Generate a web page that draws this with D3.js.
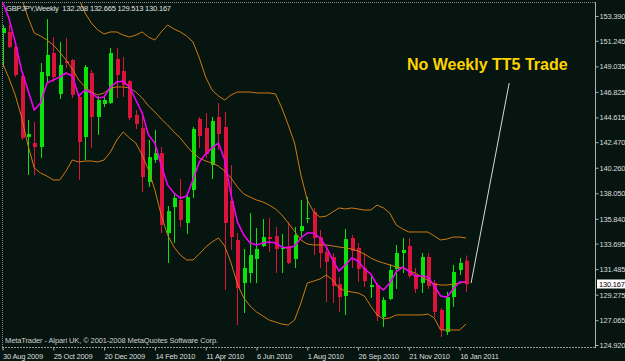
<!DOCTYPE html>
<html>
<head>
<meta charset="utf-8">
<script src="https://cdn.jsdelivr.net/npm/d3@7"></script>
<style>
  html, body { margin: 0; padding: 0; background: #061510; }
  svg { display: block; }
  text { font-family: "Liberation Sans", Arial, sans-serif; }
</style>
</head>
<body>
<svg id="chart" width="625" height="361"></svg>
<script>
// GBPJPY weekly bars, 30 Aug 2009 .. 23 Jan 2011 (bar index 0..73)
var open = [151.92,152.01,150.70,148.20,142.92,142.40,142.05,148.20,150.19,146.64,
  149.49,149.58,146.38,142.92,148.46,144.65,145.77,145.86,149.67,148.63,
  147.76,144.83,143.70,139.03,140.93,141.53,134.61,136.86,137.47,135.48,
  138.33,144.48,143.70,140.50,144.65,143.78,137.38,134.01,130.28,131.15,
  132.36,133.49,134.26,134.35,133.23,133.49,132.36,134.78,135.82,136.43,
  134.26,132.97,132.54,130.19,129.16,134.18,133.32,131.59,129.94,130.11,
  127.34,128.90,131.50,132.88,133.49,130.98,130.28,132.54,130.28,127.95,
  126.05,129.07,131.41,132.208]
var high = [152.61,152.61,151.05,148.29,144.39,144.22,149.32,153.13,151.57,151.14,
  151.49,149.67,146.56,149.15,148.72,146.47,146.47,150.62,150.62,149.84,
  147.85,145.26,145.09,142.66,143.53,142.05,136.95,137.98,139.28,137.90,
  143.78,144.65,145.00,144.65,145.86,145.09,140.50,134.61,133.23,136.34,
  135.05,135.82,135.91,135.13,134.52,135.57,135.13,137.47,137.72,136.78,
  134.87,133.32,132.88,130.80,134.96,134.44,133.75,132.88,130.98,130.28,
  129.07,131.93,133.58,134.18,134.18,131.59,132.88,132.88,130.54,128.12,
  129.51,131.85,132.45,132.665]
var low = [148.97,150.62,148.11,142.66,139.63,139.63,141.10,147.59,147.68,146.21,
  148.89,146.30,139.20,140.93,141.97,143.10,145.51,145.77,146.30,146.38,
  144.39,143.61,138.16,138.59,140.67,134.61,132.02,133.75,135.13,134.52,
  137.64,141.97,141.10,139.28,141.79,129.68,133.14,126.65,127.69,130.28,
  130.28,133.40,132.97,131.15,131.15,131.93,131.59,134.18,135.48,132.71,
  131.59,128.64,128.55,127.78,127.52,131.59,130.37,129.94,128.99,126.99,
  126.47,128.81,129.77,131.15,130.71,129.42,129.42,129.77,127.34,125.61,
  125.79,128.21,130.98,129.513]
var close = [152.35,150.70,148.29,142.84,143.18,142.05,148.55,150.02,148.11,149.15,
  149.32,146.56,142.49,148.97,144.65,146.12,146.12,150.19,148.29,147.42,
  144.57,144.04,139.45,141.18,141.53,135.31,136.51,137.64,135.74,137.72,
  143.61,143.01,141.44,144.30,143.18,135.48,134.26,129.85,131.59,132.71,
  133.23,134.26,134.09,133.23,133.32,132.02,134.44,135.22,135.91,134.18,
  132.88,132.11,130.02,129.07,134.09,133.05,131.50,130.45,130.11,127.43,
  128.81,131.41,132.88,133.14,130.89,129.77,132.54,130.02,127.78,126.22,
  129.07,131.24,132.02,130.167]

// magenta moving average
var ma = [154.60,153.22,151.14,148.72,146.99,145.26,145.86,147.59,147.85,148.11,
  148.46,148.20,146.47,146.99,146.73,146.30,146.38,147.25,147.68,147.76,
  147.25,146.12,145.00,143.10,142.40,140.50,138.77,138.07,137.64,137.81,
  139.20,140.76,141.44,141.97,142.40,140.93,137.90,135.57,134.44,133.75,
  133.58,133.75,133.83,133.75,133.40,133.32,133.49,134.18,134.61,134.61,
  134.18,133.40,132.28,131.32,131.85,132.45,132.19,131.50,131.06,130.11,
  129.68,130.28,131.24,131.67,131.32,130.89,130.89,130.80,130.02,129.16,
  129.07,129.77,130.37,130.37]

// bollinger bands
var bbUpper = [167.15,165.85,165.10,164.90,164.38,163.60,163.52,163.08,162.56,161.35,
  159.19,156.68,154.95,153.65,152.78,152.18,151.83,152.01,152.01,151.74,
  151.57,151.74,152.01,151.57,151.31,152.01,152.61,152.27,152.01,151.66,
  151.14,149.76,148.11,146.99,146.47,146.12,146.56,146.81,146.81,146.81,
  146.73,146.73,146.73,146.64,145.43,143.96,142.40,139.63,137.47,136.43,
  135.99,136.08,136.43,136.78,136.69,136.78,136.69,136.60,136.60,137.03,
  136.78,136.34,135.31,134.96,134.70,134.70,134.70,134.70,134.35,134.01,
  134.09,134.26,134.26,134.18]
var bbMiddle = [158.24,156.94,155.64,154.95,153.30,151.92,151.66,151.31,150.88,150.28,
  149.58,148.80,147.85,147.25,146.81,146.56,146.73,147.16,147.25,147.25,
  147.16,146.81,146.30,145.60,145.09,144.48,143.96,143.36,142.84,142.14,
  141.53,141.10,140.84,140.67,140.41,139.97,139.37,138.59,137.98,137.72,
  137.47,137.30,137.03,136.69,136.17,135.48,134.78,134.01,133.66,133.58,
  133.58,133.58,133.49,133.40,133.32,133.23,133.05,132.79,132.45,132.19,
  132.02,131.85,131.67,131.59,131.33,131.15,130.80,130.54,130.19,130.11,
  130.11,130.19,130.28,130.37]
var bbLower = [149.32,148.03,146.56,144.65,142.23,140.24,139.80,139.54,139.20,139.20,
  139.97,140.93,140.76,140.84,140.84,140.76,140.93,141.62,142.66,143.36,
  142.84,142.40,141.36,140.06,138.33,136.17,134.44,133.40,132.71,132.28,
  132.28,132.79,133.40,133.83,134.18,133.49,132.02,130.19,128.99,128.29,
  127.78,127.43,127.08,126.91,126.73,126.65,127.08,128.55,130.28,130.45,
  130.63,130.98,130.54,129.85,129.59,129.51,129.42,129.16,128.29,127.52,
  127.17,127.26,127.52,127.52,127.52,127.52,127.52,127.60,127.26,126.22,
  126.22,126.22,126.22,126.73]

var priceTicks = [153.390,151.245,149.035,146.825,144.615,142.470,140.260,
  138.050,135.840,133.695,131.485,129.275,127.065,124.920]
var dateTicks = ['30 Aug 2009','25 Oct 2009','20 Dec 2009','14 Feb 2010','11 Apr 2010',
  '6 Jun 2010','1 Aug 2010','26 Sep 2010','21 Nov 2010','16 Jan 2011']
var dateTickBars = [0, 8, 16, 24, 32, 40, 48, 56, 64, 72]

// hand drawn trend line and text label: [bar, price]
var trendLine = [[73.8, 130.28], [79.8, 147.59]]
var note = { text: 'No Weekly TT5 Trade', bar: 63.7, price: 148.72 }

var W = 625, H = 361
var plot = { left: 2, top: 2, right: 595, bottom: 347 }
var bg = '#061510'
var axisFont = 7.5

var svg = d3.select('#chart')
svg.append('rect').attr('width', W).attr('height', H).attr('fill', bg)

var x = d3.scaleLinear().domain([0, 73]).range([2.5, 466])
var y = d3.scaleLinear().domain([124.92, 153.39]).range([345, 16])

svg.append('defs').append('clipPath').attr('id', 'clip')
  .append('rect')
  .attr('x', plot.left).attr('y', plot.top)
  .attr('width', plot.right - plot.left).attr('height', plot.bottom - plot.top)

var g = svg.append('g').attr('clip-path', 'url(#clip)')

var bars = open.map(function (o, i) {
  return { i: i, o: o, h: high[i], l: low[i], c: close[i] }
})
function color(d) { return d.c >= d.o ? '#0be30b' : '#dc143c' }

g.selectAll('.wick').data(bars).enter().append('line')
  .attr('class', 'wick')
  .attr('x1', function (d) { return Math.round(x(d.i)) + 0.5 })
  .attr('x2', function (d) { return Math.round(x(d.i)) + 0.5 })
  .attr('y1', function (d) { return y(d.h) })
  .attr('y2', function (d) { return y(d.l) })
  .attr('stroke', color)
  .attr('stroke-width', 1)

g.selectAll('.body').data(bars).enter().append('rect')
  .attr('class', 'body')
  .attr('x', function (d) { return Math.round(x(d.i)) - 1 })
  .attr('width', 4)
  .attr('y', function (d) { return y(Math.max(d.o, d.c)) })
  .attr('height', function (d) { return Math.max(1, Math.abs(y(d.o) - y(d.c))) })
  .attr('fill', color)

var line = d3.line()
  .x(function (d, i) { return x(i) })
  .y(function (d) { return y(d) })

;[bbUpper, bbMiddle, bbLower].forEach(function (s) {
  g.append('path').datum(s)
    .attr('d', line)
    .attr('fill', 'none')
    .attr('stroke', '#d07a12')
    .attr('stroke-width', 1)
})

g.append('path').datum(ma)
  .attr('d', line)
  .attr('fill', 'none')
  .attr('stroke', '#f000f0')
  .attr('stroke-width', 1.6)

g.append('path').datum(trendLine)
  .attr('d', d3.line().x(function (d) { return x(d[0]) }).y(function (d) { return y(d[1]) }))
  .attr('fill', 'none')
  .attr('stroke', '#d8d8d8')
  .attr('stroke-width', 1)

svg.append('text')
  .attr('x', x(note.bar)).attr('y', y(note.price))
  .attr('fill', '#ffd400')
  .attr('font-weight', 'bold')
  .attr('font-size', 16)
  .text(note.text)

// frame
svg.append('line')
  .attr('x1', plot.left + 0.5).attr('x2', plot.left + 0.5)
  .attr('y1', plot.top).attr('y2', plot.bottom)
  .attr('stroke', '#8a8a8a').attr('stroke-dasharray', '1,1')
svg.append('line')
  .attr('x1', plot.left).attr('x2', plot.right)
  .attr('y1', plot.top + 0.5).attr('y2', plot.top + 0.5)
  .attr('stroke', '#8a8a8a').attr('stroke-dasharray', '1,1')
svg.append('line')
  .attr('x1', plot.left).attr('x2', plot.right)
  .attr('y1', plot.bottom + 0.5).attr('y2', plot.bottom + 0.5)
  .attr('stroke', '#9a9a9a').attr('stroke-dasharray', '2,1')
svg.append('line')
  .attr('x1', plot.right + 0.5).attr('x2', plot.right + 0.5)
  .attr('y1', plot.top).attr('y2', plot.bottom + 1)
  .attr('stroke', '#b0b0b0')

// right price axis
var yAxis = d3.axisRight(y)
  .tickValues(priceTicks)
  .tickSize(3)
  .tickPadding(1)
  .tickFormat(d3.format('.3f'))
var ya = svg.append('g').attr('transform', 'translate(' + (plot.right + 0.5) + ',0)').call(yAxis)
ya.select('.domain').remove()
ya.selectAll('line').attr('stroke', '#b0b0b0')
ya.selectAll('text').attr('fill', '#dcdcdc').attr('font-size', axisFont)
  .attr('letter-spacing', -0.2).attr('font-family', null)

// current price marker
var last = close[close.length - 1]
svg.append('rect')
  .attr('x', plot.right + 2).attr('y', Math.round(y(last)) - 4.5)
  .attr('width', 30).attr('height', 9)
  .attr('fill', '#ffffff')
svg.append('text')
  .attr('x', plot.right + 4).attr('y', y(last)).attr('dy', '0.34em')
  .attr('font-size', axisFont).attr('letter-spacing', -0.2).attr('fill', '#000')
  .text(d3.format('.3f')(last))

// bottom date axis
var xAxis = d3.axisBottom(x)
  .tickValues(dateTickBars)
  .tickSize(3)
  .tickPadding(2.8)
  .tickFormat(function (d, i) { return dateTicks[i] })
var xa = svg.append('g').attr('transform', 'translate(0,' + (plot.bottom + 0.5) + ')').call(xAxis)
xa.select('.domain').remove()
xa.selectAll('line').attr('stroke', '#b0b0b0')
xa.selectAll('text')
  .attr('text-anchor', 'start').attr('dx', 0)
  .attr('fill', '#dcdcdc').attr('font-size', axisFont)
  .attr('letter-spacing', -0.2).attr('font-family', null)

// header and footer
var last4 = [open, high, low, close].map(function (s) { return d3.format('.3f')(s[s.length - 1]) })
svg.append('text')
  .attr('x', 6).attr('y', 11)
  .attr('fill', '#e0e0e0').attr('font-size', axisFont).attr('letter-spacing', -0.2)
  .attr('xml:space', 'preserve')
  .text('GBPJPY,Weekly  ' + last4.join(' '))
svg.append('text')
  .attr('x', 5).attr('y', 343)
  .attr('fill', '#cfcfcf').attr('font-size', axisFont).attr('letter-spacing', -0.1)
  .text('MetaTrader - Alpari UK, \u00a9 2001-2008 MetaQuotes Software Corp.')
</script>
</body>
</html>
